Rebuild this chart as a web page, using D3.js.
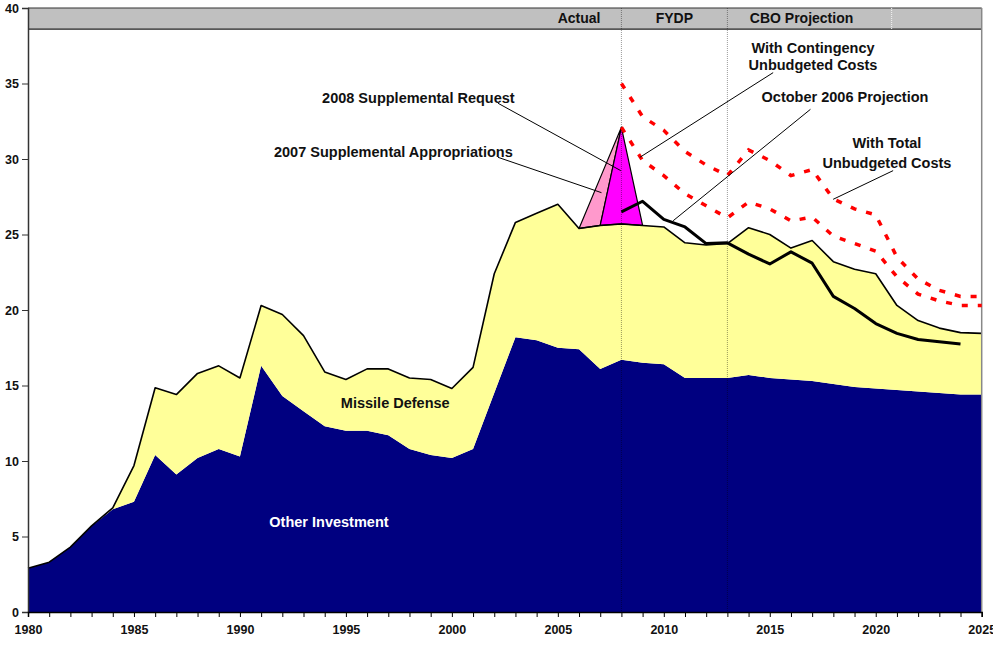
<!DOCTYPE html>
<html>
<head>
<meta charset="utf-8">
<script src="https://cdn.jsdelivr.net/npm/d3@7/dist/d3.min.js"></script>
<style>
  html, body { margin: 0; padding: 0; background: #fff; }
  svg { display: block; }
  text { font-family: "Liberation Sans", Arial, sans-serif; font-weight: bold; fill: #111; }
</style>
</head>
<body>
<svg id="chart" width="993" height="646"></svg>
<script>
// Investment spending, billions of dollars, 1980-2025
const years = d3.range(1980, 2026);

const otherInvestment = [
  2.9, 3.3, 4.3, 5.7, 6.8, 7.3, 10.4, 9.1, 10.2, 10.8,
  10.3, 16.3, 14.3, 13.3, 12.3, 12.0, 12.0, 11.7, 10.8, 10.4,
  10.2, 10.8, 14.5, 18.2, 18.0, 17.5, 17.4, 16.1, 16.7, 16.5,
  16.4, 15.5, 15.5, 15.5, 15.7, 15.5, 15.4, 15.3, 15.1, 14.9,
  14.8, 14.7, 14.6, 14.5, 14.4, 14.4
];

const missileDefense = [
  0, 0, 0, 0, 0.1, 2.4, 4.45, 5.3, 5.6, 5.5,
  5.2, 4.0, 5.4, 5.0, 3.6, 3.4, 4.1, 4.4, 4.7, 5.0,
  4.6, 5.4, 7.9, 7.6, 8.4, 9.5, 8.0, 9.5, 9.0, 9.1,
  9.1, 8.95, 8.8, 8.9, 9.75, 9.5, 8.7, 9.3, 8.1, 7.8,
  7.6, 5.6, 4.7, 4.3, 4.1, 4.05
];

// Supplemental funding stacked on top of the base program
const supp2008Years = [2007, 2008, 2009];
const supp2008Request = [0, 6.4, 0];
const supp2007Years = [2006, 2007, 2008];
const supp2007Appropriations = [0, 3.15, 0];

// Projections
const projYears = d3.range(2008, 2026);
const october2006Projection = [
  26.5, 27.2, 26.0, 25.5, 24.4, 24.45, 23.7, 23.05, 23.85, 23.1,
  20.9, 20.1, 19.1, 18.45, 18.05, 17.9, 17.75
];
const withContingencyCosts = [
  32.1, 29.9, 28.9, 27.7, 26.9, 26.1, 27.15, 26.7, 25.9, 26.15,
  24.9, 24.4, 23.9, 22.2, 21.05, 20.6, 20.3, 20.3
];
const withTotalCosts = [
  35.0, 32.8, 31.9, 30.5, 29.6, 28.9, 30.6, 29.9, 28.9, 29.3,
  27.35, 26.7, 26.3, 23.5, 22.05, 21.3, 20.9, 20.9
];

// Period bands across the top
const periodNames = ["Actual", "FYDP", "CBO Projection"];
const periodLabelYears = [2006.0, 2010.5, 2016.5];
const periodBreaks = [2008, 2013];
const yTicks = [0, 5, 10, 15, 20, 25, 30, 35, 40];
const xLabelYears = [1980, 1985, 1990, 1995, 2000, 2005, 2010, 2015, 2020, 2025];

const svg = d3.select("#chart");
const x = d3.scaleLinear().domain([1980, 2025]).range([28, 981.7]);
const y = d3.scaleLinear().domain([0, 40]).range([612, 8]);

// Stack the base program layers
const rows = years.map((yr, i) => ({ year: yr, other: otherInvestment[i], missile: missileDefense[i] }));
const stacked = d3.stack().keys(["other", "missile"])(rows);
const totalByYear = new Map(rows.map(r => [r.year, r.other + r.missile]));

const area = d3.area()
  .x(d => x(d.data.year))
  .y0(d => y(d[0]))
  .y1(d => y(d[1]));

const layerColors = { other: "#000080", missile: "#ffff99" };
svg.append("g").selectAll("path")
  .data(stacked)
  .join("path")
  .attr("d", area)
  .attr("fill", d => layerColors[d.key]);

// Supplemental wedges: 2008 request sits on the base total, 2007 appropriations on top of that
const req2008 = supp2008Years.map((yr, i) => {
  const base = totalByYear.get(yr);
  return { year: yr, y0: base, y1: base + supp2008Request[i] };
});
const req2008Top = new Map(req2008.map(d => [d.year, d.y1]));
const app2007 = supp2007Years.map((yr, i) => {
  const base = req2008Top.has(yr) ? req2008Top.get(yr) : totalByYear.get(yr);
  return { year: yr, y0: base, y1: base + supp2007Appropriations[i] };
});
const wedge = d3.area().x(d => x(d.year)).y0(d => y(d.y0)).y1(d => y(d.y1));

svg.append("path").datum(app2007).attr("d", wedge)
  .attr("fill", "#ff99cc").attr("stroke", "#000").attr("stroke-width", 1.2).attr("stroke-linejoin", "round");
svg.append("path").datum(req2008).attr("d", wedge)
  .attr("fill", "#ff00ff").attr("stroke", "#000").attr("stroke-width", 1.2).attr("stroke-linejoin", "round");

// Outline of the base total
svg.append("path")
  .datum(rows)
  .attr("d", d3.line().x(d => x(d.year)).y(d => y(d.other + d.missile)))
  .attr("fill", "none").attr("stroke", "#000").attr("stroke-width", 1.6).attr("stroke-linejoin", "round");

// Header band with period names
svg.append("rect")
  .attr("x", x(1980)).attr("y", y(40))
  .attr("width", x(2025) - x(1980)).attr("height", y(38.6) - y(40))
  .attr("fill", "#c0c0c0");
svg.append("line")
  .attr("x1", x(1980)).attr("x2", x(2025)).attr("y1", y(38.6)).attr("y2", y(38.6))
  .attr("stroke", "#222").attr("stroke-width", 1.2);
svg.append("line")
  .attr("x1", x(1980)).attr("x2", x(2025)).attr("y1", y(40)).attr("y2", y(40))
  .attr("stroke", "#333").attr("stroke-width", 1.2);
svg.append("line")
  .attr("x1", x(2020.75)).attr("x2", x(2020.75)).attr("y1", y(40)).attr("y2", y(38.6))
  .attr("stroke", "#f4f4f4").attr("stroke-dasharray", "1,1");

// Period dividers
svg.append("g").selectAll("line")
  .data(periodBreaks)
  .join("line")
  .attr("x1", d => x(d)).attr("x2", d => x(d))
  .attr("y1", y(40)).attr("y2", y(0))
  .attr("stroke", "#000").attr("stroke-opacity", 0.4)
  .attr("stroke-dasharray", "1,1");

svg.append("g").selectAll("text")
  .data(periodNames)
  .join("text")
  .attr("x", (d, i) => x(periodLabelYears[i]))
  .attr("y", y(39.3))
  .attr("dy", "0.35em")
  .attr("text-anchor", "middle")
  .attr("font-size", "14px")
  .text(d => d);

// Right border of the plot
svg.append("line")
  .attr("x1", x(2025)).attr("x2", x(2025)).attr("y1", y(40)).attr("y2", y(0))
  .attr("stroke", "#888").attr("stroke-width", 1.5);

// Projection lines
const projLine = d3.line().x(d => x(d[0])).y(d => y(d[1]));
const pair = (vals) => vals.map((v, i) => [projYears[i], v]);

svg.append("path").datum(pair(withTotalCosts)).attr("d", projLine)
  .attr("fill", "none").attr("stroke", "#ff0000").attr("stroke-width", 3.5)
  .attr("stroke-dasharray", "6,10");
svg.append("path").datum(pair(withContingencyCosts)).attr("d", projLine)
  .attr("fill", "none").attr("stroke", "#ff0000").attr("stroke-width", 3.5)
  .attr("stroke-dasharray", "6,10");
svg.append("path").datum(pair(october2006Projection)).attr("d", projLine)
  .attr("fill", "none").attr("stroke", "#000").attr("stroke-width", 3)
  .attr("stroke-linejoin", "round");

// Axes
const yAxis = d3.axisLeft(y).tickValues(yTicks).tickSize(6).tickPadding(3).tickFormat(d3.format("d"));
const gy = svg.append("g").attr("transform", `translate(${x(1980)},0)`).call(yAxis);
gy.select(".domain").attr("stroke", "#333").attr("stroke-width", 1.5);
gy.selectAll(".tick line").attr("stroke", "#333");
gy.selectAll(".tick text").attr("font-size", "12.5px").attr("font-family", "Liberation Sans, Arial, sans-serif").attr("font-weight", "bold").attr("fill", "#111");

const xAxis = d3.axisBottom(x).tickValues(years).tickSize(5).tickPadding(8)
  .tickFormat(d => xLabelYears.includes(d) ? String(d) : "");
const gx = svg.append("g").attr("transform", `translate(0,${y(0)})`).call(xAxis);
gx.select(".domain").attr("stroke", "#000").attr("stroke-width", 1.5);
gx.selectAll(".tick line").attr("stroke", "#000");
gx.selectAll(".tick text").attr("font-size", "12.5px").attr("font-family", "Liberation Sans, Arial, sans-serif").attr("font-weight", "bold").attr("fill", "#111");

// Annotations and leader lines
const leaders = [
  [[2002.18, 33.69], [2007.97, 29.23]],
  [[2002.18, 30.11], [2007.06, 27.77]],
  [[2015.16, 35.72], [2008.87, 30.11]],
  [[2016.92, 33.29], [2010.44, 25.91]],
  [[2020.82, 29.23], [2017.99, 27.33]]
];
svg.append("g").selectAll("line")
  .data(leaders)
  .join("line")
  .attr("x1", d => x(d[0][0])).attr("y1", d => y(d[0][1]))
  .attr("x2", d => x(d[1][0])).attr("y2", d => y(d[1][1]))
  .attr("stroke", "#000").attr("stroke-width", 1);

const labels = [
  { text: "2008 Supplemental Request", year: 1998.42, value: 34.04, color: "#111" },
  { text: "2007 Supplemental Appropriations", year: 1997.24, value: 30.46, color: "#111" },
  { text: "With Contingency", year: 2017.04, value: 37.37, color: "#111" },
  { text: "Unbudgeted Costs", year: 2017.04, value: 36.2, color: "#111" },
  { text: "October 2006 Projection", year: 2018.55, value: 34.09, color: "#111" },
  { text: "With Total", year: 2020.53, value: 31.04, color: "#111" },
  { text: "Unbudgeted Costs", year: 2020.53, value: 29.75, color: "#111" },
  { text: "Missile Defense", year: 1997.33, value: 13.86, color: "#111" },
  { text: "Other Investment", year: 1994.2, value: 5.94, color: "#fff" }
];
svg.append("g").selectAll("text")
  .data(labels)
  .join("text")
  .attr("x", d => x(d.year))
  .attr("y", d => y(d.value))
  .attr("dy", "0.35em")
  .attr("text-anchor", "middle")
  .attr("font-size", "14.5px")
  .style("fill", d => d.color)
  .text(d => d.text);
</script>
</body>
</html>
